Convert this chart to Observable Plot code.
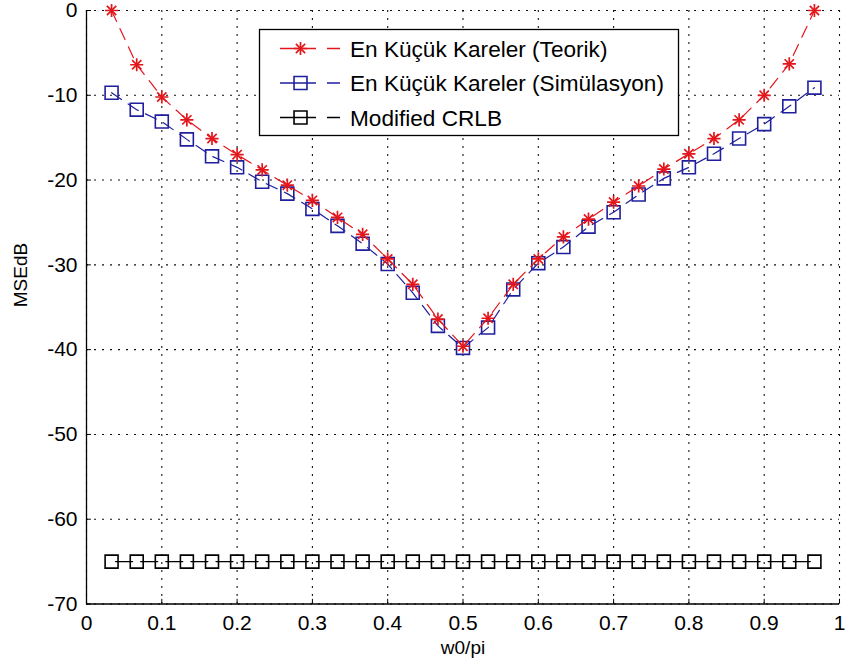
<!DOCTYPE html>
<html>
<head>
<meta charset="utf-8">
<script src="https://cdn.jsdelivr.net/npm/d3@7"></script>
<script src="https://cdn.jsdelivr.net/npm/@observablehq/plot@0.6"></script>
<style>
  html, body { margin: 0; padding: 0; background: #fff; }
  #chart svg { display: block; }
</style>
</head>
<body>
<div id="chart"></div>
<script>
// Normalised frequency w0/pi of each estimate
const freqs = [0.0333, 0.0667, 0.1000, 0.1333, 0.1667, 0.2000, 0.2333, 0.2667, 0.3000, 0.3333,
               0.3667, 0.4000, 0.4333, 0.4667, 0.5000, 0.5333, 0.5667, 0.6000, 0.6333, 0.6667,
               0.7000, 0.7333, 0.7667, 0.8000, 0.8333, 0.8667, 0.9000, 0.9333, 0.9667];

// Least-squares MSE (dB), theoretical
const theoryDb = [0, -6.4, -10.2, -12.9, -15.1, -17.0, -18.8, -20.6, -22.4, -24.4,
                  -26.4, -29.3, -32.3, -36.4, -39.6, -36.3, -32.3, -29.3, -26.7, -24.6,
                  -22.6, -20.7, -18.7, -16.9, -15.1, -12.9, -10.0, -6.3, 0];

// Least-squares MSE (dB), simulated
const simDb = [-9.7, -11.7, -13.1, -15.2, -17.2, -18.5, -20.2, -21.6, -23.4, -25.4,
               -27.5, -29.9, -33.3, -37.2, -39.8, -37.4, -32.9, -29.8, -27.9, -25.5,
               -23.8, -21.7, -19.8, -18.5, -16.9, -15.1, -13.4, -11.3, -9.1];

// Modified Cramer-Rao lower bound (dB)
const crlbDb = [-65, -65, -65, -65, -65, -65, -65, -65, -65, -65,
                -65, -65, -65, -65, -65, -65, -65, -65, -65, -65,
                -65, -65, -65, -65, -65, -65, -65, -65, -65];

const xTicks = [0, 0.1, 0.2, 0.3, 0.4, 0.5, 0.6, 0.7, 0.8, 0.9, 1];
const yTicks = [0, -10, -20, -30, -40, -50, -60, -70];

const seriesNames = ["En Küçük Kareler (Teorik)", "En Küçük Kareler (Simülasyon)", "Modified CRLB"];
const seriesColors = ["#e3161b", "#1f1f9e", "#000000"];
const xLabel = "w0/pi";
const yLabel = "MSEdB";

const toRows = (vals) => freqs.map((x, i) => ({x, y: vals[i]}));
const teo = toRows(theoryDb);
const sim = toRows(simDb);
const crlb = toRows(crlbDb);

const FONT = "'Liberation Sans', Arial, Helvetica, sans-serif";
const DASH = "12,8";
const SQ_R = 7.3;   // square marker radius
const ST_R = 4.3;   // asterisk marker radius

const gridStyle = {stroke: "#111", strokeOpacity: 1, strokeWidth: 1.1, strokeDasharray: "2,6"};

const plot = Plot.plot({
  width: 845,
  height: 672,
  marginLeft: 86,
  marginRight: 6,
  marginTop: 10,
  marginBottom: 68.5,
  style: {fontFamily: FONT, fontSize: "21px", background: "#fff", color: "#000"},
  x: {domain: [0, 1]},
  y: {domain: [-70, 0]},
  marks: [
    Plot.gridX(xTicks, gridStyle),
    Plot.gridY(yTicks, gridStyle),
    // inward ticks
    Plot.ruleX(xTicks, {x: d => d, y1: -70, y2: -69.45, stroke: "#000"}),
    Plot.ruleY(yTicks, {y: d => d, x1: 0, x2: 0.0065, stroke: "#000"}),
    Plot.ruleX([0], {stroke: "#000", strokeWidth: 1.3}),
    Plot.ruleY([-70], {stroke: "#000", strokeWidth: 1.3}),
    Plot.axisX(xTicks, {tickSize: 0, tickPadding: 11, label: null, tickFormat: d => String(d), fontSize: 21}),
    Plot.axisY(yTicks, {tickSize: 0, tickPadding: 9, label: null, tickFormat: d => String(d), fontSize: 21}),
    Plot.text([xLabel], {text: d => d, frameAnchor: "bottom", dy: 50, fontSize: 19}),
    Plot.text([yLabel], {text: d => d, frameAnchor: "left", dx: -66, rotate: -90, fontSize: 19}),

    // Modified CRLB: dashes sit in the gaps between the square markers
    Plot.line(crlb, {x: "x", y: "y", stroke: seriesColors[2], strokeWidth: 1.3,
                     strokeDasharray: "17,8.1", strokeDashoffset: -4}),
    Plot.dot(crlb, {x: "x", y: "y", symbol: "square", r: SQ_R, fill: "none", stroke: seriesColors[2], strokeWidth: 1.6}),

    // simulated
    Plot.line(sim, {x: "x", y: "y", stroke: seriesColors[1], strokeWidth: 1.2, strokeDasharray: DASH}),
    Plot.dot(sim, {x: "x", y: "y", symbol: "square", r: SQ_R, fill: "none", stroke: seriesColors[1], strokeWidth: 1.6}),

    // theoretical
    Plot.line(teo, {x: "x", y: "y", stroke: seriesColors[0], strokeWidth: 1.2, strokeDasharray: DASH}),
    Plot.dot(teo, {x: "x", y: "y", symbol: "plus", r: ST_R, stroke: seriesColors[0], strokeWidth: 1.7}),
    Plot.dot(teo, {x: "x", y: "y", symbol: "times", r: ST_R, stroke: seriesColors[0], strokeWidth: 1.7})
  ]
});

document.getElementById("chart").appendChild(plot);

// Legend box in the upper middle of the axes
const svg = d3.select(plot);
const lg = svg.append("g")
  .attr("font-family", FONT).attr("font-size", 22.6).attr("text-anchor", "start");
const box = {x: 259.5, y: 29.5, w: 419, h: 106};
lg.append("rect")
  .attr("x", box.x).attr("y", box.y).attr("width", box.w).attr("height", box.h)
  .attr("fill", "#fff").attr("stroke", "#000").attr("stroke-width", 1.3);

const rowY = [48.5, 83, 117.5];
const lineX1 = 280, lineX2 = 340, markX = 300.5, textX = 350;
const sqSize = Math.PI * SQ_R * SQ_R;
const stSize = Math.PI * ST_R * ST_R;

seriesNames.forEach((name, i) => {
  const y = rowY[i];
  const c = seriesColors[i];
  lg.append("line")
    .attr("x1", lineX1).attr("x2", lineX2).attr("y1", y).attr("y2", y)
    .attr("stroke", c).attr("stroke-width", 1.3).attr("stroke-dasharray", "36,11,13,0");
  const g = lg.append("g").attr("transform", `translate(${markX},${y})`)
    .attr("fill", "none").attr("stroke", c);
  if (i === 0) {
    g.append("path").attr("d", d3.symbol(d3.symbolPlus, stSize)()).attr("stroke-width", 1.7);
    g.append("path").attr("d", d3.symbol(d3.symbolTimes, stSize)()).attr("stroke-width", 1.7);
  } else {
    g.append("path").attr("d", d3.symbol(d3.symbolSquare, sqSize)()).attr("stroke-width", 1.6);
  }
  lg.append("text").attr("x", textX).attr("y", y).attr("dy", "0.36em")
    .attr("fill", "#000").attr("stroke", "none").text(name);
});
</script>
</body>
</html>
